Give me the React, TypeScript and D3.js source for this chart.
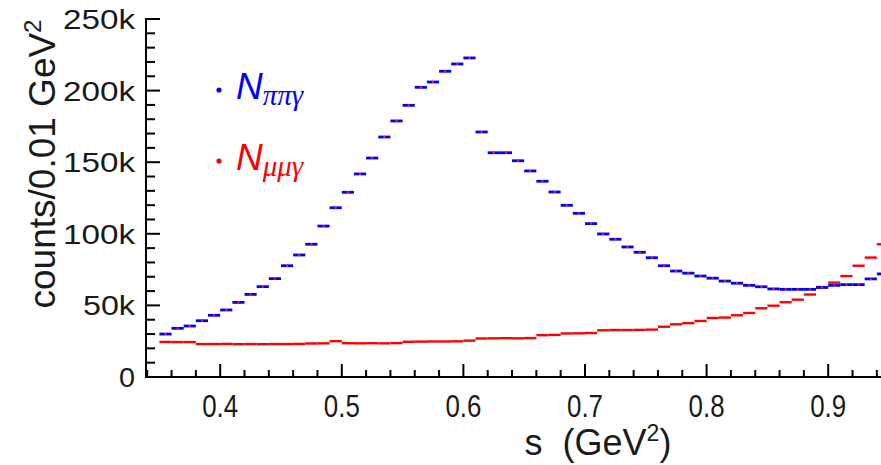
import React from "react";
import * as d3 from "d3";

// bin lower edges, width 0.01 GeV^2
const binStart = d3.range(60).map((i) => +(0.35 + i * 0.01).toFixed(2));

// N_pipigamma, counts per bin (k)
const pipiCounts = [
  30.0, 34.0, 35.6, 39.3, 43.1, 46.8, 52.1, 57.7, 63.1, 68.7,
  77.7, 85.2, 92.7, 105.4, 118.2, 129.0, 141.8, 152.9, 167.6, 178.8,
  189.7, 202.3, 206.0, 213.5, 218.6, 222.8, 171.1, 156.6, 156.6, 151.0,
  143.9, 136.7, 129.2, 119.9, 114.3, 107.1, 99.9, 96.2, 90.8, 87.1,
  83.3, 77.7, 74.0, 72.5, 70.5, 69.0, 67.0, 65.5, 64.0, 63.0,
  61.5, 61.2, 61.2, 61.2, 62.5, 64.0, 64.5, 64.5, 68.5, 72.0,
];

// N_mumugamma, counts per bin (k)
const mumuCounts = [
  24.5, 24.4, 24.4, 23.0, 23.0, 23.1, 22.9, 23.0, 22.9, 23.0,
  23.0, 23.1, 23.4, 23.5, 25.0, 23.6, 23.5, 23.6, 23.5, 23.7,
  24.6, 24.7, 24.8, 24.8, 24.9, 25.4, 26.9, 27.0, 27.1, 27.0,
  27.2, 29.2, 29.4, 30.4, 30.5, 30.7, 32.6, 32.8, 32.8, 32.9,
  33.1, 35.1, 36.8, 37.6, 39.1, 41.2, 41.5, 43.1, 44.7, 48.0,
  49.8, 52.2, 54.0, 57.6, 62.8, 65.9, 70.5, 77.7, 83.4, 92.7,
];

const xMajor = [0.4, 0.5, 0.6, 0.7, 0.8, 0.9];
const yMajor = [0, 50000, 100000, 150000, 200000, 250000];
const yLabels = ["0", "50k", "100k", "150k", "200k", "250k"];

const W = 881;
const H = 465;
const sans = "'Liberation Sans', Arial, Helvetica, sans-serif";
const serif = "'Liberation Serif', 'Times New Roman', serif";
const ink = "#1a1a1a";

export default function App() {
  const x = d3.scaleLinear().domain([0.339, 0.95]).range([146, 889]);
  const y = d3.scaleLinear().domain([0, 250000]).range([377, 19]);

  const xMinor = d3.range(0.34, 0.95, 0.02).filter(
    (v) => !xMajor.some((m) => Math.abs(m - v) < 1e-6)
  );
  const yMinor = d3.range(0, 250001, 10000).filter((v) => v % 50000 !== 0);

  const bw = 0.01;
  const yFont = 28;

  return (
    <svg width={W} height={H} style={{ position: "absolute", left: 0, top: 0 }}>
      <rect width={W} height={H} fill="white" />

      {/* mu mu gamma */}
      {binStart.map((s, i) => (
        <line
          key={"m" + i}
          x1={x(s)}
          x2={x(s + bw)}
          y1={y(mumuCounts[i] * 1000)}
          y2={y(mumuCounts[i] * 1000)}
          stroke="#ff0000"
          strokeWidth={2.4}
        />
      ))}

      {/* pi pi gamma */}
      {binStart.map((s, i) => (
        <g key={"p" + i}>
          <line
            x1={x(s)}
            x2={x(s + bw)}
            y1={y(pipiCounts[i] * 1000)}
            y2={y(pipiCounts[i] * 1000)}
            stroke="#0000ff"
            strokeWidth={2.8}
          />
          <rect
            x={x(s + bw / 2) - 1}
            y={y(pipiCounts[i] * 1000) - 1}
            width={2}
            height={2}
            fill="#ff2020"
          />
        </g>
      ))}

      {/* axes */}
      <line x1={146} x2={W} y1={377} y2={377} stroke="black" strokeWidth={2} />
      <line x1={146} x2={146} y1={18} y2={378} stroke="black" strokeWidth={2} />
      {xMajor.map((v) => (
        <g key={"xt" + v}>
          <line x1={x(v)} x2={x(v)} y1={377} y2={364} stroke="black" strokeWidth={2} />
          <text
            x={x(v)}
            y={417}
            textAnchor="middle"
            fontFamily={sans}
            fontSize={32}
            textLength={36}
            lengthAdjust="spacingAndGlyphs"
            fill={ink}
          >
            {d3.format(".1f")(v)}
          </text>
        </g>
      ))}
      {xMinor.map((v, i) => (
        <line key={"xm" + i} x1={x(v)} x2={x(v)} y1={377} y2={370} stroke="black" strokeWidth={2} />
      ))}
      {yMajor.map((v, i) => (
        <g key={"yt" + v}>
          <line x1={146} x2={160} y1={y(v)} y2={y(v)} stroke="black" strokeWidth={2} />
          <text
            x={135}
            y={y(v)}
            dy="0.36em"
            textAnchor="end"
            fontFamily={sans}
            fontSize={yFont}
            textLength={yLabels[i].length === 1 ? 16 : yLabels[i].length === 3 ? 52 : 72}
            lengthAdjust="spacingAndGlyphs"
            fill={ink}
          >
            {yLabels[i]}
          </text>
        </g>
      ))}
      {yMinor.map((v) => (
        <line key={"ym" + v} x1={146} x2={155} y1={y(v)} y2={y(v)} stroke="black" strokeWidth={2} />
      ))}

      {/* axis titles */}
      <text
        transform="translate(55,164) rotate(-90)"
        textAnchor="middle"
        fontFamily={sans}
        fontSize={37}
        fill={ink}
      >
        counts/0.01 GeV<tspan dy={-14} fontSize={24}>2</tspan>
      </text>
      <text x={598} y={455} textAnchor="middle" fontFamily={sans} fontSize={36} fill={ink} xmlSpace="preserve">
        {"s  (GeV"}
        <tspan dy={-14} fontSize={23}>2</tspan>
        <tspan dy={14}>)</tspan>
      </text>

      {/* legend */}
      <circle cx={219} cy={90} r={2.6} fill="#0000ff" />
      <text x={236} y={99} fontFamily={sans} fontStyle="italic" fontSize={37} fill="#0000ff">
        N
        <tspan dy={6} fontFamily={serif} fontSize={29}>ππγ</tspan>
      </text>
      <circle cx={219} cy={161} r={2.6} fill="#ff0000" />
      <text x={236} y={170} fontFamily={sans} fontStyle="italic" fontSize={37} fill="#ff0000">
        N
        <tspan dy={6} fontFamily={serif} fontSize={29}>μμγ</tspan>
      </text>
    </svg>
  );
}
